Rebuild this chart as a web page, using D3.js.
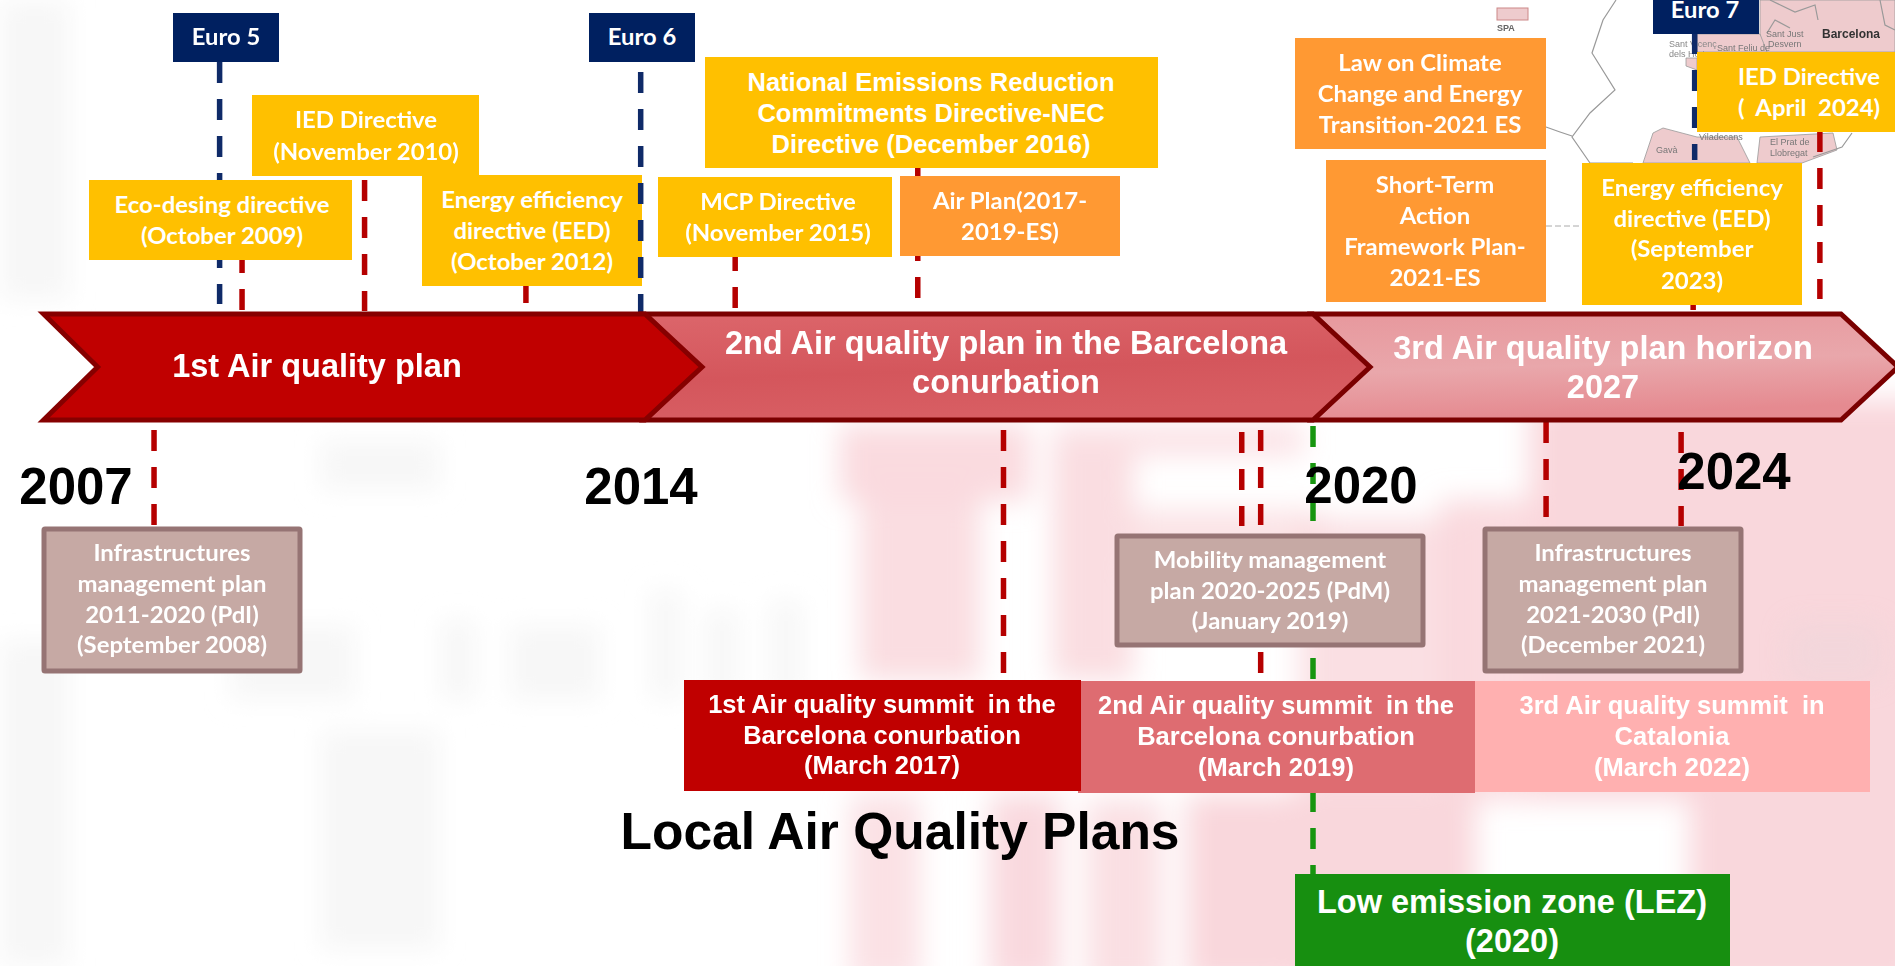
<!DOCTYPE html>
<html>
<head>
<meta charset="utf-8">
<script src="https://cdn.jsdelivr.net/npm/d3@7"></script>
<style>
  html, body { margin: 0; padding: 0; background: #fff; overflow: hidden; }
  svg { display: block; }
</style>
</head>
<body>
<script>
// timeline anchors: the arrows are not to one scale, so each stretch has its own
const timeAnchors = [2007, 2014, 2020, 2027];

const planLines = [
  ["1st Air quality plan"],
  ["2nd Air quality plan in the Barcelona", "conurbation"],
  ["3rd Air quality plan horizon", "2027"]
];
const planSpans = [[2007.03, 2014], [2014, 2020], [2020, 2027]];

const yearLabels = ["2007", "2014", "2020", "2024"];

const euroLabels = ["Euro 5", "Euro 6", "Euro 7"];
const euroTimes = [2009.07, 2013.95, 2025.06];

const upperLabels = [
  ["Eco-desing directive", "(October 2009)"],
  ["IED Directive", "(November 2010)"],
  ["Energy efficiency", "directive (EED)", "(October 2012)"],
  ["MCP Directive", "(November 2015)"],
  ["National Emissions Reduction", "Commitments Directive-NEC", "Directive (December 2016)"],
  ["Air Plan(2017-", "2019-ES)"],
  ["Law on Climate", "Change and Energy", "Transition-2021 ES"],
  ["Short-Term", "Action", "Framework Plan-", "2021-ES"],
  ["Energy efficiency", "directive (EED)", "(September", "2023)"],
  ["IED Directive", "(  April  2024)"]
];
const upperTimes = [2009.33, 2010.75, 2012.62, 2014.81, 2016.45, null, null, null, 2025.04, 2026.72];

const lowerLabels = [
  ["Infrastructures", "management plan", "2011-2020 (PdI)", "(September 2008)"],
  ["Mobility management", "plan 2020-2025 (PdM)", "(January 2019)"],
  ["Infrastructures", "management plan", "2021-2030 (PdI)", "(December 2021)"]
];
const lowerTimes = [2008.31, 2019.36, 2024.88];

const summitLabels = [
  ["1st Air quality summit  in the", "Barcelona conurbation", "(March 2017)"],
  ["2nd Air quality summit  in the", "Barcelona conurbation", "(March 2019)"],
  ["3rd Air quality summit  in", "Catalonia", "(March 2022)"]
];
const summitTimes = [2017.22, 2019.53, 2023.09];

const lezLabel = ["Low emission zone (LEZ)", "(2020)"];
const lezTime = 2020;

const title = "Local Air Quality Plans";

const width = 1895, height = 966;

const x = d3.scaleLinear().domain(timeAnchors).range([41, 645, 1313, 1841]);

const svg = d3.select("body").append("svg")
  .attr("width", width)
  .attr("height", height)
  .style("font-family", "'Liberation Sans', Arial, sans-serif");

const defs = svg.append("defs");
[["blurPink", 14], ["blurGrey", 12], ["blurMap", 0.5]].forEach(f => {
  defs.append("filter").attr("id", f[0])
    .attr("filterUnits", "userSpaceOnUse")
    .attr("x", -100).attr("y", -100).attr("width", width + 200).attr("height", height + 200)
    .append("feGaussianBlur").attr("stdDeviation", f[1]);
});

const grad2 = defs.append("linearGradient").attr("id", "plan2").attr("x1", 0).attr("y1", 0).attr("x2", 0.25).attr("y2", 1);
grad2.append("stop").attr("offset", "0%").attr("stop-color", "#dc666b");
grad2.append("stop").attr("offset", "60%").attr("stop-color", "#d4565c");
grad2.append("stop").attr("offset", "100%").attr("stop-color", "#d85e63");
const grad3 = defs.append("linearGradient").attr("id", "plan3").attr("x1", 0).attr("y1", 0).attr("x2", 0.2).attr("y2", 1);
grad3.append("stop").attr("offset", "0%").attr("stop-color", "#e7989d");
grad3.append("stop").attr("offset", "55%").attr("stop-color", "#e9a7ab");
grad3.append("stop").attr("offset", "100%").attr("stop-color", "#e58a90");

// faded picture behind the chart
const backdrop = svg.append("g").attr("class", "backdrop");

// grey ghost of the big letters on the left
const grey = backdrop.append("g").attr("filter", "url(#blurGrey)").attr("fill", "#f7f7f7");
[[0, 0, 70, 300], [0, 640, 70, 326], [320, 440, 120, 50], [320, 730, 120, 220],
 [440, 620, 36, 80], [510, 625, 90, 75], [650, 590, 32, 110], [706, 610, 32, 90], [770, 600, 32, 100], [230, 625, 125, 75]].forEach(r => {
  grey.append("rect").attr("x", r[0]).attr("y", r[1]).attr("width", r[2]).attr("height", r[3]);
});

// pink patches, [x, y, w, h, opacity]
const pink = backdrop.append("g").attr("filter", "url(#blurPink)").attr("fill", "#f9d7dc");
[[1530, 400, 400, 400, 1], [1690, 780, 230, 210, 1], [1440, 500, 110, 300, 0.9], [1300, 520, 170, 290, 0.8],
 [1290, 790, 185, 200, 1], [840, 425, 190, 75, 0.9], [860, 490, 120, 190, 0.85], [1053, 425, 250, 30, 0.75],
 [1053, 450, 80, 230, 0.85], [1130, 510, 190, 60, 0.7], [850, 795, 70, 190, 0.75], [990, 795, 70, 190, 0.95],
 [1087, 800, 75, 190, 0.8], [1187, 795, 110, 190, 1]].forEach(r => {
  pink.append("rect").attr("x", r[0]).attr("y", r[1]).attr("width", r[2]).attr("height", r[3]).attr("opacity", r[4]);
});
backdrop.append("rect").attr("x", 1790).attr("y", 625).attr("width", 90).attr("height", 55)
  .attr("fill", "#ecd6da").attr("opacity", 0.5).attr("filter", "url(#blurPink)");

// map fragment, top right
const mapLine = d3.line();
const mapG = backdrop.append("g").attr("filter", "url(#blurMap)");
[
  [[1760, 0], [1895, 0], [1895, 52], [1760, 52]],
  [[1643, 163], [1653, 133], [1663, 128], [1697, 137], [1737, 137], [1750, 163]],
  [[1757, 163], [1760, 137], [1833, 133], [1837, 150], [1802, 163]],
  [[1697, 34], [1760, 34], [1767, 52], [1697, 52]],
  [[1686, 58], [1697, 58], [1697, 70], [1686, 66]]
].forEach(p => {
  mapG.append("path").attr("d", mapLine(p) + "Z").attr("fill", "#eecbcd").attr("stroke", "#999").attr("stroke-width", 0.8);
});
[
  [[1616, 0], [1603, 20], [1592, 53], [1615, 90], [1590, 113], [1572, 137], [1590, 163], [1633, 163]],
  [[1546, 127], [1560, 132], [1572, 136]],
  [[1852, 133], [1842, 147], [1813, 157]],
  [[1770, 0], [1795, 12], [1815, 5], [1818, 20]],
  [[1767, 33], [1775, 20], [1790, 28]],
  [[1880, 0], [1885, 25], [1895, 30]]
].forEach(p => {
  mapG.append("path").attr("d", mapLine(p)).attr("fill", "none").attr("stroke", "#999").attr("stroke-width", 1.2);
});
mapG.append("path").attr("d", mapLine([[1546, 226], [1582, 226]]))
  .attr("fill", "none").attr("stroke", "#aaa").attr("stroke-width", 1).attr("stroke-dasharray", "6 3");
mapG.append("rect").attr("x", 1497).attr("y", 8).attr("width", 31).attr("height", 12)
  .attr("fill", "#eecbcd").attr("stroke", "#c88").attr("stroke-width", 1);
[
  ["SPA", 1497, 31, 9, 700, "#666"],
  ["Barcelona", 1822, 38, 12, 700, "#333"],
  ["Sant Vicenç", 1669, 47, 9, 400, "#888"],
  ["dels Horts", 1669, 57, 9, 400, "#888"],
  ["Sant Feliu de", 1717, 51, 9, 400, "#777"],
  ["Sant Just", 1766, 37, 9, 400, "#777"],
  ["Desvern", 1768, 47, 9, 400, "#777"],
  ["Viladecans", 1699, 140, 9, 400, "#777"],
  ["Gavà", 1656, 153, 9, 400, "#777"],
  ["El Prat de", 1770, 145, 9, 400, "#777"],
  ["Llobregat", 1770, 156, 9, 400, "#777"]
].forEach(t => {
  mapG.append("text").attr("x", t[1]).attr("y", t[2]).attr("font-size", t[3]).attr("font-weight", t[4]).attr("fill", t[5]).text(t[0]);
});

// dashed stems
const stemLayer = svg.append("g").attr("class", "stems");
function stem(time, y0, y1, color, layer) {
  (layer || stemLayer).append("line")
    .attr("x1", x(time)).attr("x2", x(time))
    .attr("y1", y0).attr("y2", y1)
    .attr("stroke", color)
    .attr("stroke-width", 5.5)
    .attr("stroke-dasharray", "21 16");
}

const RED = "#b50000", BLUE = "#0f2a68", GREEN = "#17950f";

// [y from, y to] for each stem, in the order of the label arrays
const upperStemY = [[252, 310], [180, 311], [282, 303], [250, 308], [166, 298], null, null, null, [289, 310], [131, 299]];
upperTimes.forEach((t, i) => { if (t !== null) stem(t, upperStemY[i][0], upperStemY[i][1], RED); });

const lowerStemY = [[430, 525], [432, 526], [432, 526]];
lowerTimes.forEach((t, i) => stem(t, lowerStemY[i][0], lowerStemY[i][1], RED));

const summitStemY = [[430, 673], [430, 673], [422, 681]];
summitTimes.forEach((t, i) => stem(t, summitStemY[i][0], summitStemY[i][1], RED));

stem(lezTime, 426, 521, GREEN);
stem(lezTime, 658, 680, GREEN);
stem(lezTime, 791, 874, GREEN);

// label box helper, one entry per line of text
function labelBox(g, lines, b, style) {
  g.append("rect")
    .attr("x", b.x0).attr("y", b.y0)
    .attr("width", b.x1 - b.x0).attr("height", b.y1 - b.y0)
    .attr("rx", style.rx || 0)
    .attr("fill", style.fill)
    .attr("stroke", style.stroke || "none")
    .attr("stroke-width", style.strokeWidth || 0);
  lines.forEach((line, i) => {
    g.append("text")
      .attr("transform", `translate(${b.cx},${b.base[i]}) scale(${style.squeeze || 1},1)`)
      .attr("text-anchor", "middle")
      .style("white-space", "pre")
      .attr("font-family", style.font)
      .attr("font-weight", 700)
      .attr("font-size", style.size)
      .attr("fill", style.color || "#fff")
      .text(line);
  });
}

const LATO = "Lato, 'Liberation Sans', sans-serif";
const ARIAL = "'Liberation Sans', Arial, sans-serif";
const YELLOW = "#ffc000", ORANGE = "#ff9933";

const boxLayer = svg.append("g").attr("class", "boxes");

const upperBoxes = [
  {x0: 89, x1: 352, y0: 180, y1: 260, cx: 222, base: [213, 244], fill: YELLOW},
  {x0: 252, x1: 479, y0: 95, y1: 176, cx: 366, base: [128, 160], fill: YELLOW},
  {x0: 422, x1: 642, y0: 175, y1: 286, cx: 532, base: [208, 239, 270], fill: YELLOW},
  {x0: 658, x1: 892, y0: 177, y1: 257, cx: 778, base: [210, 241], fill: YELLOW},
  {x0: 705, x1: 1158, y0: 57, y1: 168, cx: 931, base: [91, 122, 153], fill: YELLOW, font: ARIAL, size: 25.5, squeeze: 1},
  {x0: 900, x1: 1120, y0: 176, y1: 256, cx: 1010, base: [209, 240], fill: ORANGE},
  {x0: 1295, x1: 1546, y0: 38, y1: 149, cx: 1420, base: [71, 102, 133], fill: ORANGE},
  {x0: 1326, x1: 1546, y0: 160, y1: 302, cx: 1435, base: [193, 224, 255, 286], fill: ORANGE},
  {x0: 1582, x1: 1802, y0: 163, y1: 305, cx: 1692, base: [196, 227, 257, 289], fill: YELLOW},
  {x0: 1697, x1: 1895, y0: 52, y1: 132, cx: 1809, base: [85, 116], fill: YELLOW}
];
upperLabels.forEach((lines, i) => {
  const b = upperBoxes[i];
  labelBox(boxLayer, lines, b, {fill: b.fill, font: b.font || LATO, size: b.size || 23, squeeze: b.squeeze || 1.04});
});

// euro norms go on top of the yellow boxes
const euroLayer = svg.append("g");
const euroBoxes = [
  {x0: 173, x1: 279, y0: 13, y1: 62, cx: 226, base: [45], stem: [62, 304]},
  {x0: 589, x1: 695, y0: 13, y1: 62, cx: 642, base: [45], stem: [72, 314]},
  {x0: 1653, x1: 1759, y0: -5, y1: 34, cx: 1705, base: [18], stem: [33, 160]}
];
// the Euro 5 and Euro 7 stems pass behind the directive boxes, Euro 6 in front
stem(euroTimes[0], euroBoxes[0].stem[0], euroBoxes[0].stem[1], BLUE, stemLayer);
stem(euroTimes[1], euroBoxes[1].stem[0], euroBoxes[1].stem[1], BLUE, euroLayer);
stem(euroTimes[2], euroBoxes[2].stem[0], euroBoxes[2].stem[1], BLUE, stemLayer);
euroLabels.forEach((lab, i) => {
  labelBox(euroLayer, [lab], euroBoxes[i], {fill: "#002060", font: LATO, size: 22, squeeze: 1.08});
});

const lowerBoxes = [
  {x0: 44, x1: 300, y0: 529, y1: 671, cx: 172, base: [561, 592, 623, 653]},
  {x0: 1117, x1: 1423, y0: 536, y1: 645, cx: 1270, base: [568, 599, 629]},
  {x0: 1485, x1: 1741, y0: 529, y1: 671, cx: 1613, base: [561, 592, 623, 653]}
];
lowerLabels.forEach((lines, i) => {
  labelBox(svg.append("g"), lines, lowerBoxes[i], {fill: "#c6a9a4", stroke: "#967474", strokeWidth: 5, rx: 1, font: LATO, size: 23, squeeze: 1.04});
});

const summitBoxes = [
  {x0: 684, x1: 1081, y0: 680, y1: 791, cx: 882, base: [713, 744, 774], fill: "#c00000"},
  {x0: 1078, x1: 1475, y0: 681, y1: 793, cx: 1276, base: [714, 745, 776], fill: "#de6c71"},
  {x0: 1475, x1: 1870, y0: 681, y1: 792, cx: 1672, base: [714, 745, 776], fill: "#ffb0b0"}
];
// the first summit box overlaps the second one
[2, 1, 0].forEach(i => {
  labelBox(svg.append("g"), summitLabels[i], summitBoxes[i], {fill: summitBoxes[i].fill, font: ARIAL, size: 25.5});
});

labelBox(svg.append("g"), lezLabel,
  {x0: 1295, x1: 1730, y0: 874, y1: 970, cx: 1512, base: [913, 952]},
  {fill: "#178f10", font: ARIAL, size: 32.5});

// the three plan arrows, last one first so each tip sits over the next tail
const planFill = ["#c00000", "url(#plan2)", "url(#plan3)"];
const planStroke = ["#860000", "#7a0000", "#7a0000"];
const planBase = [[377], [354, 393], [359, 398]];
const planCx = [317, 1006, 1603];
const arrowTop = 314, arrowBottom = 420, arrowMid = 367, arrowHead = 57;
const arrowLine = d3.line();
const arrows = svg.append("g").attr("class", "plans");
[2, 1, 0].forEach(i => {
  const left = x(planSpans[i][0]), right = x(planSpans[i][1]);
  const pts = [[left, arrowTop], [right, arrowTop], [right + arrowHead, arrowMid], [right, arrowBottom], [left, arrowBottom], [left + arrowHead - 3, arrowMid]];
  arrows.append("path")
    .attr("d", arrowLine(pts) + "Z")
    .attr("fill", planFill[i])
    .attr("stroke", planStroke[i])
    .attr("stroke-width", 5);
});
[0, 1, 2].forEach(i => {
  planLines[i].forEach((line, k) => {
    arrows.append("text")
      .attr("x", planCx[i]).attr("y", planBase[i][k])
      .attr("text-anchor", "middle")
      .attr("font-weight", 700)
      .attr("font-size", 32.5)
      .attr("fill", "#fff")
      .text(line);
  });
});

// year labels
const yearCx = [76, 641, 1361, 1734];
const yearBase = [504, 504, 503, 489];
svg.append("g").selectAll("text").data(yearLabels).enter().append("text")
  .attr("x", (d, i) => yearCx[i])
  .attr("y", (d, i) => yearBase[i])
  .attr("text-anchor", "middle")
  .attr("font-weight", 700)
  .attr("font-size", 51)
  .attr("fill", "#000")
  .text(d => d);

svg.append("text")
  .attr("x", 900).attr("y", 849)
  .attr("text-anchor", "middle")
  .attr("font-weight", 700)
  .attr("font-size", 51.5)
  .attr("fill", "#000")
  .text(title);
</script>
</body>
</html>
